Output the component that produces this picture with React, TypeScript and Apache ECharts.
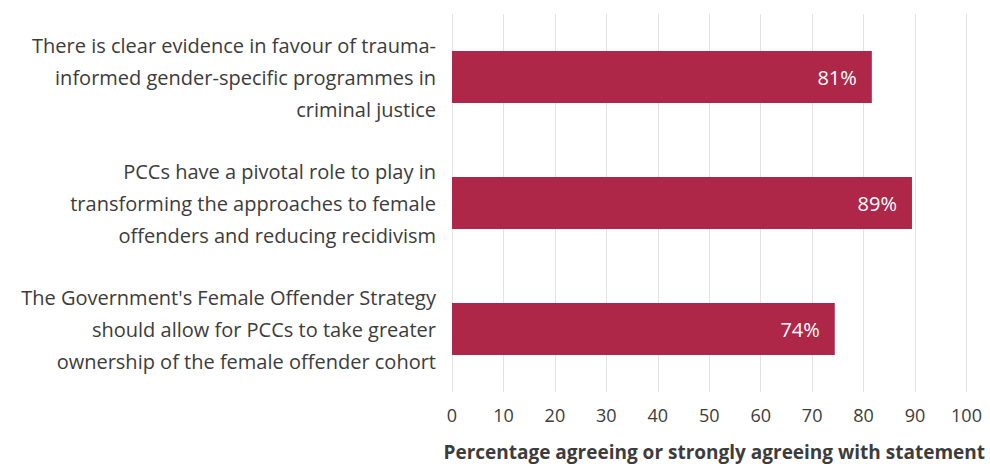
import React, { useEffect, useRef } from "react";
import * as echarts from "echarts";

const categories = [
  "There is clear evidence in favour of trauma-\ninformed gender-specific programmes in\ncriminal justice",
  "PCCs have a pivotal role to play in\ntransforming the approaches to female\noffenders and reducing recidivism",
  "The Government's Female Offender Strategy\nshould allow for PCCs to take greater\nownership of the female offender cohort",
];
const values = [81.6, 89.4, 74.4];
const valueLabels = ["81%", "89%", "74%"];
const xTicks = [0, 10, 20, 30, 40, 50, 60, 70, 80, 90, 100];
const xAxisTitle = "Percentage agreeing or strongly agreeing with statement";

const FONT = "'Open Sans', 'Noto Sans', sans-serif";
const TEXT = "#3c3c3c";
const BAR = "#AF2748";

export default function App() {
  const ref = useRef<HTMLDivElement>(null);
  useEffect(() => {
    if (!ref.current) return;
    const chart = echarts.init(ref.current, null, { renderer: "svg" });
    chart.setOption({
      animation: false,
      backgroundColor: "#ffffff",
      textStyle: { fontFamily: FONT },
      grid: {
        left: 452,
        right: 23.5,
        top: 14,
        bottom: 72,
        containLabel: false,
        outerBoundsMode: "none",
      },
      xAxis: {
        type: "value",
        min: xTicks[0],
        max: xTicks[xTicks.length - 1],
        interval: 10,
        axisLine: { show: false },
        axisTick: { show: false },
        splitLine: { show: true, lineStyle: { color: "#e3e3e3", width: 1 } },
        axisLabel: { color: TEXT, fontSize: 18, fontFamily: FONT, margin: 14 },
        name: xAxisTitle,
        nameLocation: "middle",
        nameGap: 50,
        nameTextStyle: {
          color: TEXT,
          fontSize: 19,
          fontWeight: "bold",
          fontFamily: FONT,
          padding: [0, 0, 0, 10],
        },
      },
      yAxis: {
        type: "category",
        data: categories,
        inverse: true,
        axisLine: { show: false },
        axisTick: { show: false },
        splitLine: { show: false },
        axisLabel: {
          color: TEXT,
          fontSize: 20,
          fontFamily: FONT,
          lineHeight: 32,
          margin: 16,
          align: "right",
        },
      },
      series: [
        {
          type: "bar",
          data: values,
          barWidth: 52,
          itemStyle: { color: BAR },
          label: {
            show: true,
            position: "insideRight",
            distance: 15,
            color: "#ffffff",
            fontSize: 20,
            fontFamily: FONT,
            formatter: (p: any) => valueLabels[p.dataIndex],
          },
        },
      ],
    });
    return () => chart.dispose();
  }, []);
  return (
    <div
      ref={ref}
      style={{ position: "absolute", left: 0, top: 0, width: 990, height: 464 }}
    />
  );
}
